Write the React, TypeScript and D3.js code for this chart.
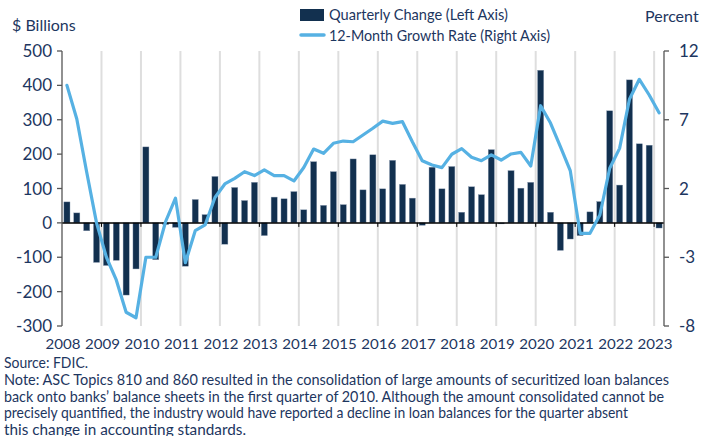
import React from 'react'
import * as d3 from 'd3'

// quarterly change in loan balances, $ billions (2008Q1 .. 2023Q1)
const quarterlyChange = [
  61, 29, -23, -115,
  -124, -109, -210, -134,
  221, -107, -5, -13,
  -126, 68, 24, 135,
  -62, 103, 65, 118,
  -37, 75, 70, 91,
  38, 178, 51, 149,
  53, 186, 96, 198,
  99, 182, 112, 72,
  -7, 162, 99, 164,
  31, 105, 82, 213,
  -3, 152, 101, 118,
  444, 31, -80, -47,
  -37, 32, 62, 326,
  110, 416, 230, 226,
  -15,
]

// 12-month growth rate, percent
const growthRate = [
  9.5, 7.05, 3.2, -0.5,
  -3.0, -4.65, -7.0, -7.4,
  -3.0, -3.0, -0.4, 1.3,
  -3.4, -1.07, -0.65, 1.35,
  2.33, 2.74, 3.22, 2.94,
  3.35, 2.94, 2.94, 2.55,
  3.53, 4.87, 4.56, 5.29,
  5.45, 5.4, 5.89, 6.38,
  6.9, 6.74, 6.86, 5.4,
  4.02, 3.71, 3.52, 4.49,
  4.9, 4.27, 4.02, 4.44,
  4.07, 4.51, 4.63, 3.64,
  8.02, 6.76, 5.04, 3.3,
  -1.26, -1.26, 0.07, 3.47,
  4.92, 8.49, 9.94, 8.8,
  7.51,
]

const yearLabels = ['2008', '2009', '2010', '2011', '2012', '2013', '2014', '2015',
  '2016', '2017', '2018', '2019', '2020', '2021', '2022', '2023']
const leftTicks = [500, 400, 300, 200, 100, 0, -100, -200, -300]
const rightTicks = [12, 7, 2, -3, -8]

const quarters = yearLabels.flatMap(y => ['Q1', 'Q2', 'Q3', 'Q4'].map(q => y + q)).slice(0, quarterlyChange.length)

const noteLines = [
  'Note: ASC Topics 810 and 860 resulted in the consolidation of large amounts of securitized loan balances',
  'back onto banks\u2019 balance sheets in the first quarter of 2010. Although the amount consolidated cannot be',
  'precisely quantified, the industry would have reported a decline in loan balances for the quarter absent',
  'this change in accounting standards.',
]
const noteWidths = [665, 660, 624, 242]

const NAVY = '#12304f'
const BLUE = '#56b1e3'
const TEXT = '#1d3660'
const FONT = 'Lato, "Open Sans", sans-serif'

const App = () => {
  const width = 713, height = 436
  const left = 62, right = 664, top = 51, bottom = 326

  const x = d3.scaleBand<string>()
    .domain(quarters)
    .range([left, right])
    .paddingInner(0.38)
    .paddingOuter(0.19)
  const step = (right - left) / quarters.length
  const xYear = (i: number) => left + i * 4 * step

  const yL = d3.scaleLinear().domain([-300, 500]).range([bottom, top])
  const yR = d3.scaleLinear().domain([-8, 12]).range([bottom, top])

  const line = d3.line<number>()
    .x((_, i) => (x(quarters[i]) as number) + x.bandwidth() / 2)
    .y(d => yR(d))

  return (
    <svg width={width} height={height} style={{ position: 'absolute', left: 0, top: 0 }}
      fontFamily={FONT}>
      {/* year gridlines */}
      {yearLabels.slice(1).map((y, i) => (
        <line key={y} x1={xYear(i + 1)} x2={xYear(i + 1)} y1={top} y2={bottom}
          stroke="#dedede" strokeWidth={2} />
      ))}

      {/* bars */}
      {quarterlyChange.map((v, i) => (
        <rect key={quarters[i]} x={x(quarters[i])} width={x.bandwidth()}
          y={yL(Math.max(0, v))} height={Math.abs(yL(v) - yL(0))}
          fill={NAVY} stroke="#8a9bb0" strokeWidth={0.4} />
      ))}

      {/* zero line with year ticks */}
      <line x1={left} x2={right} y1={yL(0)} y2={yL(0)} stroke="#000" strokeWidth={1.5} />
      {yearLabels.slice(1).map((y, i) => (
        <line key={'t' + y} x1={xYear(i + 1)} x2={xYear(i + 1)} y1={yL(0)} y2={yL(0) + 4}
          stroke="#000" strokeWidth={1} />
      ))}

      {/* growth line */}
      <path d={line(growthRate) || ''} fill="none" stroke={BLUE} strokeWidth={3.2}
        strokeLinejoin="round" strokeLinecap="round" />

      {/* left axis */}
      <line x1={left} x2={left} y1={top} y2={bottom} stroke="#555" strokeWidth={1.3} />
      {leftTicks.map(t => (
        <g key={'l' + t}>
          <line x1={left - 5} x2={left} y1={yL(t)} y2={yL(t)} stroke="#555" strokeWidth={1.3} />
          <text x={52} y={yL(t)} dy="0.36em" textAnchor="end" fontSize={17} fill={TEXT}>{t}</text>
        </g>
      ))}

      {/* right axis */}
      <line x1={right} x2={right} y1={top} y2={bottom} stroke="#555" strokeWidth={1.3} />
      {rightTicks.map(t => (
        <g key={'r' + t}>
          <line x1={right} x2={right + 5} y1={yR(t)} y2={yR(t)} stroke="#555" strokeWidth={1.3} />
          <text x={679} y={yR(t)} dy="0.36em" textAnchor="start" fontSize={17} fill={TEXT}>{t}</text>
        </g>
      ))}

      {/* year labels */}
      {yearLabels.map((y, i) => (
        <text key={'y' + y} x={xYear(i) + 1} y={349} textAnchor="middle" fontSize={14}
          fill={TEXT} textLength={35} lengthAdjust="spacingAndGlyphs">{y}</text>
      ))}

      {/* axis titles */}
      <text x={12} y={31} fontSize={16} fill={TEXT}>$ Billions</text>
      <text x={645} y={22} fontSize={16} fill={TEXT}>Percent</text>

      {/* legend */}
      <rect x={300} y={9} width={24} height={12} fill={NAVY} />
      <text x={329} y={20} fontSize={15} fill={TEXT} textLength={179} lengthAdjust="spacingAndGlyphs">
        Quarterly Change (Left Axis)
      </text>
      <line x1={301} x2={324} y1={35} y2={35} stroke={BLUE} strokeWidth={3.5} strokeLinecap="round" />
      <text x={329} y={41} fontSize={15} fill={TEXT} textLength={221} lengthAdjust="spacingAndGlyphs">
        12-Month Growth Rate (Right Axis)
      </text>

      {/* source and note */}
      <text x={4} y={368} fontSize={14.5} fill={TEXT} textLength={84} lengthAdjust="spacingAndGlyphs">Source: FDIC.</text>
      {noteLines.map((s, i) => (
        <text key={'n' + i} x={4} y={385 + i * 16.5} fontSize={15} fill={TEXT}
          textLength={noteWidths[i]} lengthAdjust="spacingAndGlyphs">{s}</text>
      ))}
    </svg>
  )
}

export default App
